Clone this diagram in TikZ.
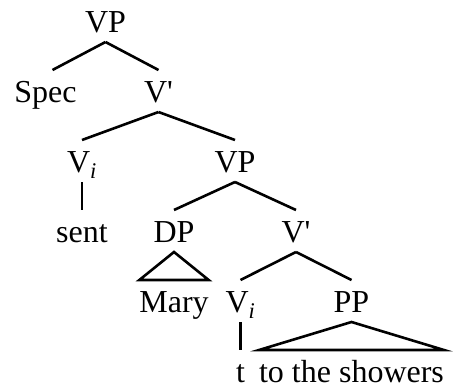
\documentclass[tikz,border=0pt]{standalone}
\usepackage{fontspec}
\setmainfont{Liberation Serif}

\begin{document}
\begin{tikzpicture}[x=1pt,y=1pt]
      \tikzstyle{every node}=[font=\fontsize{32}{38}\selectfont,inner sep=0pt,outer xsep=0pt,outer ysep=7pt,text height=25pt,text depth=3pt]
      \tikzstyle{edge from parent}=[draw,line width=2.6pt]
      \tikzstyle{roof}=[edge from parent path={(\tikzparentnode.south) -- (\tikzchildnode.north west) -- (\tikzchildnode.north east) -- cycle}]
      \tikzstyle{wide}=[edge from parent path={(\tikzparentnode.south) -- ([xshift=7pt]\tikzchildnode.north)}]
      \tikzstyle{level 1}=[sibling distance=106pt]
      \tikzstyle{level 2}=[sibling distance=153pt]
      \tikzstyle{level 3}=[sibling distance=122pt]
      \tikzstyle{level 4}=[sibling distance=111pt]
      \useasboundingbox (0,0) rectangle (458,-388);
      \node (vp) at (105.5,-21) {VP} [level distance=70pt,parent anchor=south,child anchor=north]
        child[wide] {node[xshift=-7pt] (spec) {Spec}}
        child {node (vbar) {V\textquotesingle}
          child {node (v) {V\textsubscript{\textit{i}}}
            child {node (sent) {sent}}
          }
          child {node (vp2) {VP}
            child {node (dp) {DP}
              child[roof] {node (mary) {Mary}}
            }
            child {node (vbar2) {V\textquotesingle}
              child {node (v2) {V\textsubscript{\textit{i}}}
                child {node (trace) {t}}
              }
              child {node (pp) {PP}
                child[roof] {node (showers) {to the showers}}
              }
            }
          }
        }
    ;\end{tikzpicture}
\end{document}
